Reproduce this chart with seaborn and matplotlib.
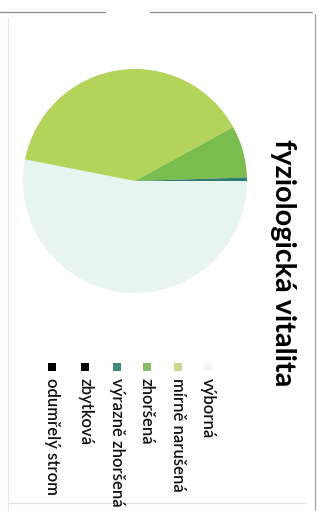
import matplotlib
matplotlib.use("Agg")
import matplotlib.pyplot as plt
from matplotlib.patches import Rectangle
from matplotlib.lines import Line2D
import seaborn as sns

# ---- data ----
title = "fyziologická vitalita"
categories = ["výborná", "mírně narušená", "zhoršená", "výrazně zhoršená", "zbytková", "odumřelý strom"]
values = [53.1, 38.9, 7.5, 0.5, 0.0, 0.0]
colors = ["#e8f4ef", "#b3d35a", "#7abd4e", "#2f7d6c", "#000000", "#000000"]
legend_colors = ["#f4f8f2", "#c9d98c", "#8cbb68", "#3d8a78", "#000000", "#000000"]

sns.set_theme(style="white")
plt.rcParams["font.family"] = ["Lato", "DejaVu Sans"]

W, H = 326, 511
fig = plt.figure(figsize=(W / 100, H / 100), dpi=100)
fig.patch.set_facecolor("white")

def fx(x):
    return x / W

def fy(y):
    return 1 - y / H

# pie (image is rotated 90 degrees clockwise)
cx, cy, r = 135, 181, 112
ax = fig.add_axes([fx(cx - r), fy(cy + r), 2 * r / W, 2 * r / H])
pal = sns.color_palette(colors)
ax.pie(values, colors=pal, startangle=0, counterclock=False,
       wedgeprops=dict(linewidth=0, edgecolor="none"), radius=1)
ax.set_xlim(-1, 1)
ax.set_ylim(-1, 1)
ax.set_aspect("equal")
ax.axis("off")

fig.canvas.draw()
renderer = fig.canvas.get_renderer()

def rtext(x, y0, s, size, weight="normal", color="black"):
    return fig.text(fx(x), fy(y0), s, rotation=-90, rotation_mode="anchor",
                    ha="left", va="center", fontsize=size, fontweight=weight, color=color)

def fitted_size(s, target_len, weight="normal", size0=10):
    t = rtext(0, 0, s, size0, weight)
    L = t.get_window_extent(renderer).height
    t.remove()
    return size0 * target_len / L

# title
rtext(283, 139, title, fitted_size(title, 248, "bold", 16), weight="bold")

# legend
cols_x = [208, 178, 147, 117, 85, 52]
lw_ = "semibold"
lsize = 0.5 * (fitted_size("odumřelý strom", 122, lw_) + fitted_size("výrazně zhoršená", 123, lw_))
for lab, c, x in zip(categories, legend_colors, cols_x):
    rtext(x, 378, lab, lsize, weight=lw_, color="#111111")
    fig.add_artist(Rectangle((fx(x - 4), fy(371)), 8 / W, 8 / H, transform=fig.transFigure,
                             facecolor=c, edgecolor="none"))

# scan frame lines
fig.add_artist(Line2D([fx(0), fx(105)], [fy(12.5), fy(12.5)], color="#8a8a8a", lw=0.9, transform=fig.transFigure))
fig.add_artist(Line2D([fx(150), fx(312)], [fy(12.5), fy(12.5)], color="#8a8a8a", lw=0.9, transform=fig.transFigure))
fig.add_artist(Line2D([fx(315), fx(315)], [fy(14), fy(511)], color="#a0a0a0", lw=0.9, transform=fig.transFigure))
fig.add_artist(Line2D([fx(8), fx(8)], [fy(18), fy(511)], color="#e6e6e6", lw=0.8, transform=fig.transFigure))
fig.add_artist(Line2D([fx(8), fx(305)], [fy(503), fy(503)], color="#e2e2e2", lw=0.8, transform=fig.transFigure))

fig.savefig("out.png", dpi=100, facecolor="white")
